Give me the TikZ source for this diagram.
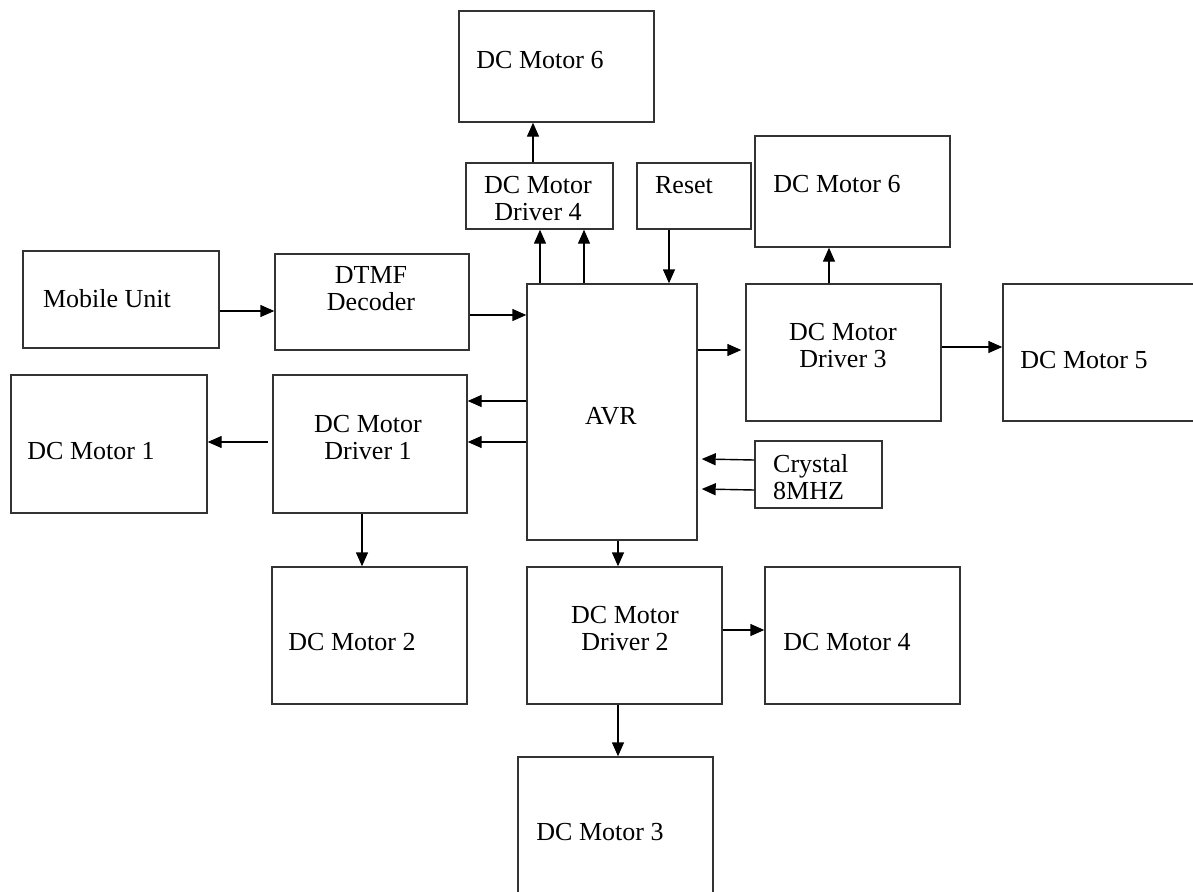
\documentclass[tikz,border=0pt]{standalone}
\usepackage{fontspec}
\setmainfont{Liberation Serif}
\usetikzlibrary{arrows.meta}
\begin{document}
\begin{tikzpicture}[x=1pt,y=-1pt,
  box/.style={draw=black!80, line width=1.4pt, rectangle, inner sep=0pt, fill=none},
  txt/.style={inner sep=0pt, align=center, font=\fontsize{26}{27}\selectfont},
  txtl/.style={inner sep=0pt, align=left, font=\fontsize{26}{27}\selectfont},
  arr/.style={draw=black, line width=1.4pt, -{Triangle[length=14pt,width=12pt]}}]
\useasboundingbox (0,0) rectangle (1193,891);
\clip (0,0) rectangle (1193,891);
% boxes
\node[box, minimum width=195, minimum height=111] (m6a) at (556.5,66.5) {};
\node[box, minimum width=147, minimum height=66] (d4) at (539.5,196) {};
\node[box, minimum width=114, minimum height=66] (rst) at (694,196) {};
\node[box, minimum width=195, minimum height=111] (m6b) at (852.5,191.5) {};
\node[box, minimum width=196, minimum height=97] (mob) at (121,299.5) {};
\node[box, minimum width=194, minimum height=96] (dtmf) at (372,302) {};
\node[box, minimum width=170, minimum height=256] (avr) at (612,412) {};
\node[box, minimum width=195, minimum height=137] (d3) at (843.5,352.5) {};
\node[box, minimum width=200, minimum height=137] (m5) at (1103,352.5) {};
\node[box, minimum width=196, minimum height=138] (m1) at (109,444) {};
\node[box, minimum width=194, minimum height=138] (d1) at (370,444) {};
\node[box, minimum width=127, minimum height=67] (xtal) at (818.5,474.5) {};
\node[box, minimum width=195, minimum height=137] (m2) at (369.5,635.5) {};
\node[box, minimum width=195, minimum height=137] (d2) at (624.5,635.5) {};
\node[box, minimum width=195, minimum height=137] (m4) at (862.5,635.5) {};
\node[box, minimum width=195, minimum height=150] (m3) at (615.5,832) {};
% texts
\node[txt] (tm6a) at (540,60) {DC Motor 6};
\node[txt] (td4) at (538,199) {DC Motor\\Driver 4};
\node[txt] (trst) at (684,185) {Reset};
\node[txt] (tm6b) at (837,184) {DC Motor 6};
\node[txt] (tmob) at (107,299) {Mobile Unit};
\node[txt] (tdtmf) at (371,289) {DTMF\\Decoder};
\node[txt] (tavr) at (611,416) {AVR};
\node[txt] (td3) at (843,346) {DC Motor\\Driver 3};
\node[txt] (tm5) at (1084,360) {DC Motor 5};
\node[txt] (tm1) at (91,451) {DC Motor 1};
\node[txt] (td1) at (368,438) {DC Motor\\Driver 1};
\node[txtl, anchor=west] (txtal) at (773,477) {Crystal\\8MHZ};
\node[txt] (tm2) at (352,642) {DC Motor 2};
\node[txt] (td2) at (625,629) {DC Motor\\Driver 2};
\node[txt] (tm4) at (847,642) {DC Motor 4};
\node[txt] (tm3) at (600,832) {DC Motor 3};
% connectors
\draw[arr] (mob.east |- 0,311) -- (dtmf.west |- 0,311);
\draw[arr] (dtmf.east |- 0,315) -- (avr.west |- 0,315);
\draw[arr] (avr.west |- 0,401) -- (d1.east |- 0,401);
\draw[arr] (avr.west |- 0,442) -- (d1.east |- 0,442);
\draw[arr] ([xshift=-4pt]d1.west |- 0,442) -- (m1.east |- 0,442);
\draw[arr] (d1.south -| 362,0) -- (m2.north -| 362,0);
\draw[arr] (avr.north -| 540,0) -- (d4.south -| 540,0);
\draw[arr] (avr.north -| 584,0) -- (d4.south -| 584,0);
\draw[arr] (d4.north -| 533,0) -- (m6a.south -| 533,0);
\draw[arr] (rst.south -| 669,0) -- (avr.north -| 669,0);
\draw[arr] (avr.east |- 0,350) -- ([xshift=-4pt]d3.west |- 0,350);
\draw[arr] (d3.north -| 829,0) -- (m6b.south -| 829,0);
\draw[arr] (d3.east |- 0,347) -- (m5.west |- 0,347);
\draw[arr] (xtal.west |- 0,460) -- ([xshift=4pt]avr.east |- 0,459);
\draw[arr] (xtal.west |- 0,490) -- ([xshift=4pt]avr.east |- 0,489);
\draw[arr] (avr.south -| 618,0) -- (d2.north -| 618,0);
\draw[arr] (d2.east |- 0,630) -- (m4.west |- 0,630);
\draw[arr] (d2.south -| 618,0) -- (m3.north -| 618,0);
\end{tikzpicture}
\end{document}
